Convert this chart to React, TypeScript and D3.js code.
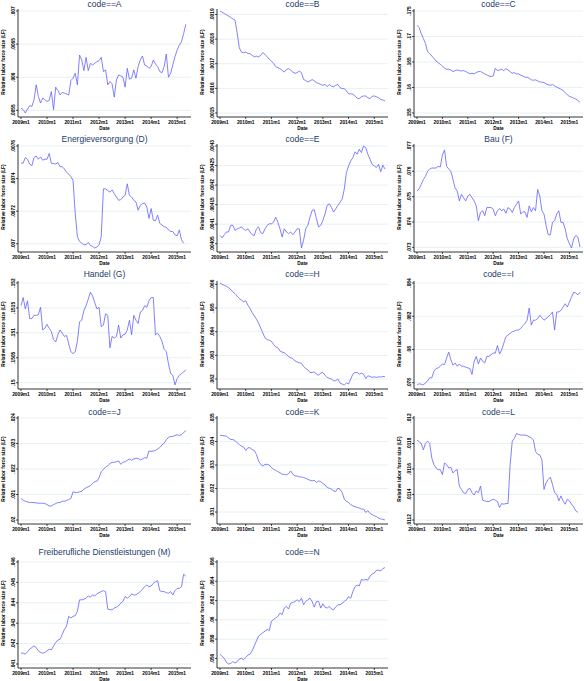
import React from "react";
import * as d3 from "d3";

// Panel titles
const titles = [
  "code==A", "code==B", "code==C",
  "Energieversorgung (D)", "code==E", "Bau (F)",
  "Handel (G)", "code==H", "code==I",
  "code==J", "code==K", "code==L",
  "Freiberufliche Dienstleistungen (M)", "code==N",
];

// Monthly series starting 2009m1
const seriesA = [
  .005535,.00551,.00546,.00552,.00557,.00556,.00566,.005885,.00571,.00561,
  .005685,.00566,.005635,.00565,.005785,.00551,.00585,.0058,.005735,.00577,
  .00576,.00575,.00573,.00595,.005985,.00606,.005885,.006335,.00626,.0061,
  .0063,.0061,.00621,.006185,.00621,.006235,.00625,.0063,.006085,.00611,
  .005885,.005935,.0059,.0057,.00596,.006035,.00602,.006,.00585,.006135,
  .00597,.005985,.00611,.005985,.00616,.00626,.00632,.006185,.00617,.006135,
  .00616,.00626,.0062,.00616,.006085,.00607,.00616,.00635,.006,.00606,
  .006185,.00631,.00641,.006485,.006535,.00666,.0068,
];
const seriesB = [
  .001914,.001909,.001904,.001899,.001893,.001888,.001882,.001877,.001826,.001765,
  .001747,.001745,.001747,.001742,.001741,.001734,.001728,.001731,.001728,.001734,
  .001745,.001738,.001728,.001718,.001711,.001701,.001688,.001684,.00168,.001673,
  .001666,.001677,.00168,.001674,.001666,.001661,.001664,.00167,.001664,.001636,
  .001632,.001626,.00163,.001636,.00163,.001623,.00162,.001616,.001612,.001616,
  .001607,.001616,.001609,.001607,.001612,.001616,.001603,.001599,.001599,.001589,
  .001578,.001578,.001576,.001569,.00156,.001558,.001566,.001569,.001569,.001562,
  .001558,.001568,.001569,.001566,.001562,.001555,.001553,.001549,
];
const seriesC = [
  .17221,.17175,.17058,.16961,.16864,.16701,.16669,.16617,.16571,.16519,
  .16487,.16455,.16422,.16377,.16357,.16357,.16344,.16312,.16331,.16344,
  .16331,.16325,.16331,.16312,.16292,.16266,.16279,.16266,.16292,.16312,
  .16312,.16292,.16266,.16247,.16227,.16214,.16227,.16377,.16331,.16344,
  .16357,.16331,.1637,.16344,.16312,.16279,.16292,.16266,.16266,.1624,
  .16227,.16201,.16201,.16182,.16149,.16143,.16149,.1613,.1611,.16104,
  .16097,.16071,.16052,.16045,.16058,.16032,.16006,.15987,.15967,.15941,
  .15903,.15857,.15825,.15812,.15792,.15773,.15747,.15708,
];
const seriesD = [
  .007495,.007495,.007529,.007519,.007489,.007479,.007529,.007539,.007519,.007533,
  .007513,.007519,.007519,.007554,.007493,.007493,.007489,.007499,.007473,.007473,
  .007459,.007438,.007428,.007412,.007388,.007186,.007044,.007014,.007004,.006994,
  .006994,.007008,.00699,.006984,.006974,.00698,.006994,.007044,
  .007337,.007337,.007327,.007317,.007331,.007307,.007287,.007267,.007271,.007287,
  .007297,.007368,.007297,.007287,.007267,.007257,.007206,.007236,.007246,.00725,
  .007226,.007156,.007216,.007145,.007141,.007176,.007125,.007115,.007105,.007101,
  .007085,.007075,.007075,.007055,.007049,.007085,.007024,.007004,
];
const seriesE = [
  .004071,.004065,.004073,.00408,.00408,.004097,.004097,.004084,.004088,.00409,
  .004093,.004087,.004084,.004088,.00408,.004073,.004071,.004088,.004093,.004078,
  .004076,.004088,.004097,.004101,.004101,.004105,.004118,.004105,.004088,.004067,
  .004088,.00408,.004076,.00408,.004073,.00408,.004088,.004088,.004039,.004059,
  .004088,.004097,.004118,.004135,.004137,.004114,.004093,.004097,.004109,.004126,
  .004148,.004152,.004143,.004131,.004139,.004148,.004156,.004164,.00419,.004232,
  .004249,.004262,.00427,.004285,.004279,.004292,.004283,.0043,.004296,.004279,
  .004266,.004253,.004249,.004245,.004253,.004234,.004251,.004241,
];
const seriesF = [
  .075221,.075312,.075481,.075675,.075805,.076,.076091,.07613,.07613,.07613,
  .076195,.076169,.076649,.076844,.076195,.076091,.076,.075675,.075351,.075221,
  .074831,.075091,.074961,.074831,.075026,.075091,.074961,.074831,.074636,.074052,
  .074377,.074442,.074247,.074571,.074571,.074571,.074506,.074247,.074442,.074532,
  .074442,.074506,.074351,.074571,.074506,.074377,.074571,.074701,.074831,.074312,
  .074403,.074403,.074182,.074636,.074403,.074571,.074442,.075286,.075026,.074442,
  .074312,.073857,.073494,.073494,.073987,.074052,.074312,.074442,.073987,.073987,
  .073727,.073338,.073143,.072974,.073338,.073468,.073403,.073013,
];
const seriesG = [
  .151545,.151708,.15148,.151643,.151286,.151286,.151351,.151351,.151364,.151513,
  .151058,.151091,.151169,.151091,.151026,.150864,.150818,.150961,.151058,.150993,
  .150928,.150948,.150779,.150623,.150584,.150623,.150831,.151221,.151253,.151448,
  .151545,.151675,.151818,.15174,.15161,.15148,.151513,.151123,.151156,.151383,
  .151351,.150701,.150928,.150896,.150928,.151156,.150896,.150961,.150974,.151058,
  .151253,.150961,.151351,.151253,.151188,.151416,.151448,.151545,.151513,.151643,
  .151708,.151708,.150961,.150993,.150928,.150831,.150669,.150623,.150376,.150182,
  .150149,.149954,.150084,.150149,.150182,.150214,.15026,
];
const seriesH = [
  .066056,.066,.065958,.065917,.065861,.065778,.065681,.065611,.0655,.065403,
  .065333,.065264,.065306,.065125,.064986,.064806,.064667,.064528,.064361,.064153,
  .063944,.063736,.063667,.063639,.063597,.063458,.063361,.063319,.06318,.063139,
  .063111,.063042,.062944,.062903,.062861,.062764,.062722,.062694,.062667,.062528,
  .062444,.062389,.062278,.062278,.062306,.062208,.062167,.06225,.062278,.062167,
  .062069,.062028,.062,.06193,.06193,.062,.061833,.061791,.06175,.061833,
  .061791,.062,.062208,.062278,.062278,.062208,.06225,.062208,.062028,.062139,
  .062111,.062069,.062097,.062069,.062097,.062083,.062111,.062097,
];
const seriesI = [
  .077862,.077941,.077902,.077862,.078001,.0781,.078298,.078298,.078694,.078852,
  .078892,.078991,.079129,.07909,.079486,.079842,.079387,.07905,.079189,.078991,
  .079129,.078991,.078991,.078931,.078892,.078852,.078496,.079288,.079585,.079129,
  .079486,.079288,.079189,.079585,.079585,.079684,.079783,.079783,.080238,.079723,
  .079981,.080377,.080773,.080872,.080971,.08107,.081109,.081169,.081169,.081268,
  .081426,.081565,.081763,.082495,.081466,.081763,.081763,.081862,.08206,.081901,
  .081763,.081862,.081961,.082099,.082258,.081169,.082258,.082258,.082357,.082555,
  .082753,.082555,.082852,.083149,.083446,.083406,.083287,.083446,
];
const seriesJ = [
  .020842,.020776,.020736,.02071,.020684,.020684,.020684,.020671,.020657,.020657,
  .020657,.020644,.020605,.020552,.020552,.020605,.020644,.020684,.020684,.020736,
  .020736,.020763,.020802,.020842,.021105,.021078,.021078,.021105,.021131,.02121,
  .021263,.021302,.021342,.021434,.0215,.021526,.021658,.021894,.021987,.022079,
  .022131,.02221,.022263,.022263,.022289,.022316,.022184,.022263,.022289,.022342,
  .022394,.022342,.022394,.022421,.022421,.022355,.022394,.022447,.022421,.02271,
  .022684,.02271,.022723,.022789,.022842,.022947,.023013,.023145,.023237,.023276,
  .023276,.023316,.023342,.023316,.023342,.023434,.0235,
];
const seriesK = [
  .034268,.034254,.03424,.034226,.034155,.034085,.034085,.034043,.033944,.033874,
  .033803,.033761,.03362,.033733,.033733,.033662,.03362,.033451,.03317,.033029,
  .032958,.033029,.033029,.033,.032888,.032818,.032775,.032719,.032677,.032606,
  .032606,.032578,.032635,.032747,.032606,.032536,.032536,.032494,.032494,.032466,
  .032437,.032395,.032353,.032325,.032353,.032254,.032325,.032297,.032212,.032156,
  .032043,.032015,.031973,.031902,.031874,.032015,.031973,.031832,.03155,.031452,
  .03141,.031311,.031269,.031227,.031198,.03117,.031128,.031128,.030987,.031058,
  .030945,.030889,.030846,.030804,.030748,.030706,.030692,.030663,
];
const seriesL = [
  .011827,.011814,.011801,.01175,.011801,.011819,.011801,.011685,.011634,.011608,
  .011595,.011595,.011556,.011647,.011634,.011608,.011613,.011569,.011587,.011595,
  .011466,.01144,.011414,.011407,.01144,.011448,.011414,.011396,.011427,.011414,
  .011466,.011355,.01135,.011345,.011345,.011355,.011363,.011355,.011345,.011298,
  .011329,.011324,.011329,.011329,.011634,.011819,.01184,.011879,.011871,.011866,
  .011866,.011866,.011861,.011853,.011845,.011827,.011737,.011716,.011711,.011672,
  .01144,.011492,.011518,.011536,.011479,.011414,.011401,.01135,.011389,.01135,
  .011324,.011363,.01135,.011324,.011303,.011272,.01126,
];
const seriesM = [
  .041532,.041532,.041484,.041597,.041726,.041806,.041887,.041806,.041645,.041564,
  .041532,.041564,.041645,.041726,.041693,.041887,.042048,.042177,.04221,.042451,
  .042693,.042855,.043339,.043258,.043339,.043371,.04358,.044145,.044145,.044177,
  .044226,.044339,.044274,.044387,.044339,.044435,.0445,.044548,.044597,.044548,
  .043693,.043661,.043661,.043742,.04379,.043855,.043984,.044064,.044306,.044226,
  .044306,.044435,.044387,.044387,.044468,.044548,.044661,.04479,.044871,.04479,
  .044823,.044952,.045032,.045081,.044597,.044548,.044548,.0445,.044468,.044548,
  .044387,.044597,.04471,.04471,.04479,.045403,.045306,
];
const seriesN = [
  .056444,.056205,.056,.05559,.05542,.055488,.055659,.055522,.055659,.055932,
  .056,.055863,.056102,.056341,.056444,.056785,.057297,.057809,.058321,.058491,
  .058662,.058833,.059003,.058901,.059857,.060027,.060198,.060369,.06071,.060539,
  .061222,.061392,.061119,.061734,.061802,.061904,.062075,.061904,.062246,.061563,
  .061904,.062075,.062246,.061904,.061324,.061904,.061904,.061222,.061665,.061324,
  .061222,.061392,.061119,.061051,.061324,.061563,.061563,.061734,.061904,.062075,
  .062416,.062246,.062928,.06344,.063611,.063509,.064191,.064123,.064191,.064123,
  .064532,.064737,.064874,.065147,.065147,.065078,.065317,.06542,
];

// y-axis ticks per panel
const ticksA = [.0055, .006, .0065, .007];
const ticksB = [.0015, .0016, .0017, .0018, .0019];
const ticksC = [.155, .16, .165, .17, .175];
const ticksD = [.007, .0072, .0074, .0076];
const ticksE = [.00405, .0041, .00415, .0042, .00425, .0043];
const ticksF = [.073, .074, .075, .076, .077];
const ticksG = [.15, .1505, .151, .1515, .152];
const ticksH = [.062, .063, .064, .065, .066];
const ticksI = [.078, .08, .082, .084];
const ticksJ = [.02, .021, .022, .023, .024];
const ticksK = [.031, .032, .033, .034, .035];
const ticksL = [.0112, .0114, .0116, .0118, .012];
const ticksM = [.041, .042, .043, .044, .045, .046];
const ticksN = [.056, .058, .06, .062, .064, .066];

// x-axis ticks (month index from 2009m1)
const xTickMonths = [0, 12, 24, 36, 48, 60, 72];
const xTickLabels = ["2009m1", "2010m1", "2011m1", "2012m1", "2013m1", "2014m1", "2015m1"];
const lastMonth = 77;

const allSeries = [seriesA, seriesB, seriesC, seriesD, seriesE, seriesF, seriesG,
  seriesH, seriesI, seriesJ, seriesK, seriesL, seriesM, seriesN];
const allTicks = [ticksA, ticksB, ticksC, ticksD, ticksE, ticksF, ticksG,
  ticksH, ticksI, ticksJ, ticksK, ticksL, ticksM, ticksN];

// layout
const W = 584, H = 681;
const colAxisX = [18, 217, 414];
const colRight = [191, 388, 583];
const rowAxisY = [117, 252, 389, 524, 668];
const rowTitleY = [4, 139, 274, 412, 552];

const FONT = "'Liberation Sans', Arial, Helvetica, sans-serif";
const LINE = "#6262ff";
const GRID = "#e0eef0";
const TITLE = "#1a3d6b";

const fmt = (v: number) => String(v).replace(/^0\./, ".");

function Panel({ i }: { i: number }) {
  const col = i % 3, row = Math.floor(i / 3);
  const ax = colAxisX[col], right = colRight[col], ay = rowAxisY[row];
  const vals = allSeries[i], ticks = allTicks[i];
  const x = d3.scaleLinear().domain([0, lastMonth]).range([ax + 3, right - 3]);
  const lo = Math.min(d3.min(vals) as number, d3.min(ticks) as number);
  const hi = Math.max(d3.max(vals) as number, d3.max(ticks) as number);
  const y = d3.scaleLinear().domain([lo, hi]).range([ay - 4, ay - 106]);
  const line = d3.line<number>().x((_, k) => x(k)).y((d) => y(d));
  const cx = (ax + right) / 2;
  const top = ay - 108;
  return (
    <g>
      <text x={cx} y={rowTitleY[row]} textAnchor="middle" dominantBaseline="central"
        fontSize={8.5} fill={TITLE} fontFamily={FONT}>{titles[i]}</text>
      {ticks.map((t) => (
        <line key={"g" + t} x1={ax} x2={right} y1={y(t)} y2={y(t)} stroke={GRID} strokeWidth={0.8} />
      ))}
      <line x1={ax} x2={ax} y1={top} y2={ay} stroke="#000" strokeWidth={0.8} />
      <line x1={ax} x2={right} y1={ay} y2={ay} stroke="#000" strokeWidth={0.8} />
      {ticks.map((t) => (
        <g key={"t" + t}>
          <line x1={ax - 2} x2={ax} y1={y(t)} y2={y(t)} stroke="#000" strokeWidth={0.7} />
          <text transform={`translate(${ax - 5},${y(t)}) rotate(-90)`} textAnchor="middle"
            dominantBaseline="central" fontSize={4.8} fontWeight={600} fontFamily={FONT} fill="#000">{fmt(t)}</text>
        </g>
      ))}
      <text transform={`translate(${ax - 14.5},${(ay - 4 + ay - 106) / 2}) rotate(-90)`}
        textAnchor="middle" dominantBaseline="central" fontSize={4.8} fontWeight={600} fontFamily={FONT}
        fill="#000">Relative labor force size (LF)</text>
      {xTickMonths.map((m, k) => (
        <g key={"x" + m}>
          <line x1={x(m)} x2={x(m)} y1={ay} y2={ay + 2} stroke="#000" strokeWidth={0.7} />
          <text x={x(m)} y={ay + 5} textAnchor="middle" dominantBaseline="central"
            fontSize={4.8} fontWeight={600} fontFamily={FONT} fill="#000">{xTickLabels[k]}</text>
        </g>
      ))}
      <text x={cx} y={ay + 11} textAnchor="middle" dominantBaseline="central"
        fontSize={4.8} fontWeight={600} fontFamily={FONT} fill="#000">Date</text>
      <path d={line(vals) || ""} fill="none" stroke={LINE} strokeWidth={0.8} />
    </g>
  );
}

export default function App() {
  return (
    <div style={{ position: "absolute", left: 0, top: 0, width: W, height: H, background: "#fff" }}>
      <svg width={W} height={H} viewBox={`0 0 ${W} ${H}`} style={{ display: "block" }}>
        <rect width={W} height={H} fill="#fff" />
        {allSeries.map((_, i) => <Panel key={i} i={i} />)}
      </svg>
    </div>
  );
}
